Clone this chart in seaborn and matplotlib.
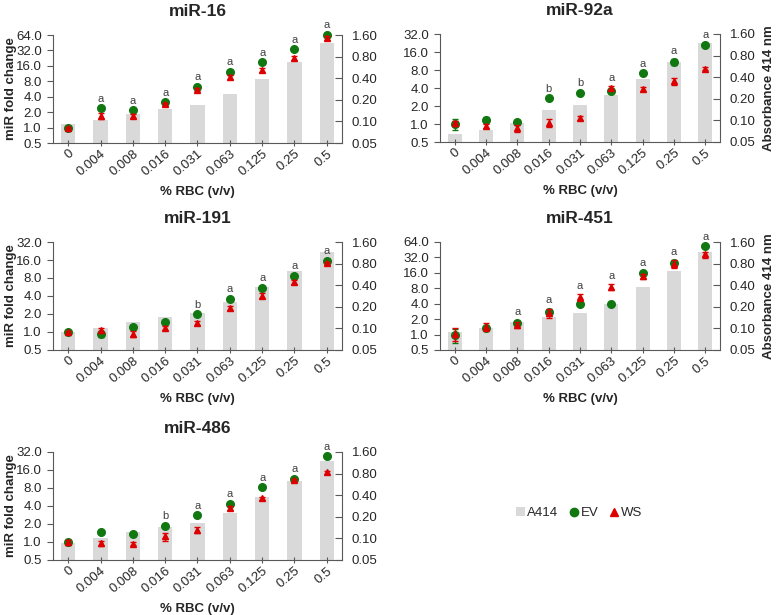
import numpy as np
import pandas as pd
import seaborn as sns
import matplotlib.pyplot as plt
from matplotlib.patches import Patch
from matplotlib.lines import Line2D
from matplotlib.ticker import FixedLocator, FixedFormatter, NullLocator

sns.set_style('ticks')
plt.rcParams['font.family'] = ['Liberation Sans', 'DejaVu Sans']

# x categories (% RBC, v/v)
rbc = ['0', '0.004', '0.008', '0.016', '0.031', '0.063', '0.125', '0.25', '0.5']

# miR-16
ev_16 = [1.0, 2.4, 2.2, 3.1, 6.3, 12.4, 18.9, 33.8, 65.0]
ws_16 = [0.98, 1.7, 1.7, 2.85, 5.5, 9.6, 13.4, 23.2, 57.0]
ev_err_16 = [0.05, 0.1, 0.1, 0.2, 0.3, 0.6, 0.8, 1.5, 3.0]
ws_err_16 = [0.05, 0.2, 0.15, 0.2, 0.4, 0.9, 1.2, 2.0, 5.0]
a414_16 = [0.092, 0.103, 0.126, 0.15, 0.169, 0.24, 0.39, 0.67, 1.22]
sig_16 = ['', 'a', 'a', 'a', 'a', 'a', 'a', 'a', 'a']

# miR-92a
ev_92a = [1.0, 1.18, 1.07, 2.72, 3.3, 3.6, 7.1, 10.9, 21.2]
ws_92a = [1.02, 0.93, 0.86, 1.04, 1.26, 4.0, 3.85, 5.2, 8.4]
ev_err_92a = [0.2, 0.15, 0.08, 0.1, 0.15, 0.3, 0.3, 1.2, 1.0]
ws_err_92a = [0.1, 0.08, 0.12, 0.15, 0.1, 0.3, 0.25, 0.7, 0.5]
a414_92a = [0.065, 0.074, 0.092, 0.141, 0.164, 0.228, 0.38, 0.645, 1.2]
sig_92a = ['', '', '', 'b', 'b', 'a', 'a', 'a', 'a']

# miR-191
ev_191 = [1.0, 0.93, 1.2, 1.45, 1.97, 3.56, 5.5, 8.6, 15.6]
ws_191 = [0.99, 1.07, 0.93, 1.18, 1.43, 2.55, 4.05, 6.9, 14.1]
ev_err_191 = [0.05, 0.1, 0.08, 0.08, 0.1, 0.2, 0.3, 0.5, 0.8]
ws_err_191 = [0.05, 0.1, 0.1, 0.1, 0.12, 0.2, 0.4, 0.6, 1.0]
a414_191 = [0.088, 0.1, 0.121, 0.145, 0.162, 0.23, 0.38, 0.63, 1.16]
sig_191 = ['', '', '', '', 'b', 'a', 'a', 'a', 'a']

# miR-451
ev_451 = [0.98, 1.32, 1.7, 2.78, 3.9, 4.0, 15.9, 25.3, 53.0]
ws_451 = [1.04, 1.42, 1.53, 2.65, 5.3, 8.5, 13.7, 24.0, 36.6]
ev_err_451 = [0.3, 0.1, 0.15, 0.3, 0.2, 0.2, 1.0, 2.0, 3.0]
ws_err_451 = [0.3, 0.25, 0.2, 0.55, 0.8, 1.2, 1.5, 4.0, 5.0]
a414_451 = [0.09, 0.1, 0.121, 0.145, 0.162, 0.222, 0.38, 0.63, 1.16]
sig_451 = ['', '', 'a', 'a', 'a', 'a', 'a', 'a', 'a']

# miR-486
ev_486 = [0.99, 1.47, 1.38, 1.88, 2.79, 4.3, 8.2, 11.3, 27.0]
ws_486 = [0.99, 0.95, 0.94, 1.24, 1.6, 3.7, 5.4, 10.7, 14.6]
ev_err_486 = [0.05, 0.08, 0.08, 0.1, 0.15, 0.3, 0.4, 0.6, 1.2]
ws_err_486 = [0.1, 0.1, 0.06, 0.2, 0.2, 0.3, 0.3, 0.6, 0.8]
a414_486 = [0.086, 0.102, 0.122, 0.142, 0.163, 0.229, 0.38, 0.64, 1.19]
sig_486 = ['', '', '', 'b', 'a', 'a', 'a', 'a', 'a']

fold_ticks_64 = [0.5, 1, 2, 4, 8, 16, 32, 64]
fold_ticks_32 = [0.5, 1, 2, 4, 8, 16, 32]
abs_ticks = [0.05, 0.1, 0.2, 0.4, 0.8, 1.6]

BAR = '#d9d9d9'
GREEN = '#117711'
RED = '#dd0000'
SPINE = '#595959'

W, H = 777, 615
fig = plt.figure(figsize=(W / 100, H / 100), dpi=100)


def box(l, r, t, b):
    return [l / W, 1 - b / H, (r - l) / W, (b - t) / H]


panels = [
    ('miR-16', ev_16, ws_16, ev_err_16, ws_err_16, a414_16, sig_16, fold_ticks_64, (53, 342, 35, 143), 'left'),
    ('miR-92a', ev_92a, ws_92a, ev_err_92a, ws_err_92a, a414_92a, sig_92a, fold_ticks_32, (440, 720, 34, 142), 'right'),
    ('miR-191', ev_191, ws_191, ev_err_191, ws_err_191, a414_191, sig_191, fold_ticks_32, (53, 342, 242, 350), 'left'),
    ('miR-451', ev_451, ws_451, ev_err_451, ws_err_451, a414_451, sig_451, fold_ticks_64, (440, 720, 242, 350), 'right'),
    ('miR-486', ev_486, ws_486, ev_err_486, ws_err_486, a414_486, sig_486, fold_ticks_32, (53, 342, 452, 560), 'left'),
]

for name, ev, ws, ev_err, ws_err, a414, sig, fticks, (l, r, t, b), side in panels:
    ax = fig.add_axes(box(l, r, t, b))
    ax2 = ax.twinx()

    # bars (absorbance) on the right axis
    ax2.set_yscale('log', base=2)
    df = pd.DataFrame({'RBC': rbc, 'A414': a414})
    sns.barplot(data=df, x='RBC', y='A414', ax=ax2, color=BAR, width=0.45,
                saturation=1, edgecolor='none')
    ax2.set_ylim(0.05, 1.6)
    ax2.yaxis.set_major_locator(FixedLocator(abs_ticks))
    ax2.yaxis.set_major_formatter(FixedFormatter(['%.2f' % v for v in abs_ticks]))
    ax2.yaxis.set_minor_locator(NullLocator())
    ax2.set_ylabel('')
    ax2.set_xlabel('')

    # fold change points on the left axis, drawn above bars
    ax.set_zorder(ax2.get_zorder() + 1)
    ax.patch.set_visible(False)
    ax.set_yscale('log', base=2)
    xs = np.arange(len(rbc))
    for vals, errs, mk, col, size, z in ((ev, ev_err, 'o', GREEN, 5.5, 3),
                                         (ws, ws_err, '^', RED, 5, 4)):
        eb = ax.errorbar(xs, vals, yerr=errs, fmt=mk, color=col, ms=size, ecolor=col,
                         elinewidth=1, capsize=2.5, capthick=1, zorder=z)
        for art in eb.get_children():
            art.set_clip_on(False)
    for i, s in enumerate(sig):
        if s:
            top = max(ev[i] + ev_err[i], ws[i] + ws_err[i])
            ax.annotate(s, (xs[i], top), xytext=(0, 2.5), textcoords='offset points',
                        ha='center', va='bottom', fontsize=8, color='#404040',
                        annotation_clip=False)
    ax.set_ylim(fticks[0], fticks[-1])
    ax.yaxis.set_major_locator(FixedLocator(fticks))
    ax.yaxis.set_major_formatter(FixedFormatter(['%.1f' % v for v in fticks]))
    ax.yaxis.set_minor_locator(NullLocator())

    ax.set_xticks(xs)
    ax.set_xticklabels(rbc, rotation=40, ha='right', rotation_mode='anchor')
    ax.set_xlim(-0.47, len(rbc) - 0.53)

    for a in (ax, ax2):
        a.spines['top'].set_visible(False)
        for sp in ('left', 'right', 'bottom'):
            a.spines[sp].set_color(SPINE)
    ax.spines['right'].set_visible(False)
    ax2.spines['left'].set_visible(False)
    ax2.spines['bottom'].set_visible(False)

    ax.tick_params(axis='y', direction='out', length=4, color=SPINE, labelsize=9.5, pad=4)
    ax2.tick_params(axis='y', direction='in', length=5, color=SPINE, labelsize=9.5, pad=7)
    ax.tick_params(axis='x', direction='inout', length=5, color=SPINE, labelsize=9.5, pad=1)

    ax.set_title(name, fontsize=12.5, fontweight='bold', pad=14)
    ax.set_xlabel('% RBC (v/v)', fontsize=9.5, fontweight='bold')
    ax.xaxis.set_label_coords(0.5, -43 / (b - t))
    if side == 'left':
        ax.set_ylabel('miR fold change', fontsize=9.5, fontweight='bold')
        ax.yaxis.set_label_coords((17 - l) / (r - l), 0.5)
    else:
        ax2.set_ylabel('Absorbance 414 nm', fontsize=9.5, fontweight='bold', rotation=90)
        ax2.yaxis.set_label_coords((763 - l) / (r - l), 0.5)

handles = [
    Patch(facecolor=BAR, edgecolor='none'),
    Line2D([], [], marker='o', color=GREEN, linestyle='none', ms=6),
    Line2D([], [], marker='^', color=RED, linestyle='none', ms=5.5),
]
fig.legend(handles, ['A414', 'EV', 'WS'], loc='center', bbox_to_anchor=(579 / W, 1 - 513 / H),
           ncol=3, frameon=False, fontsize=9.5, handlelength=0.7, handleheight=0.7,
           handletextpad=0.2, columnspacing=0.8)

fig.savefig('out.png', dpi=100)
